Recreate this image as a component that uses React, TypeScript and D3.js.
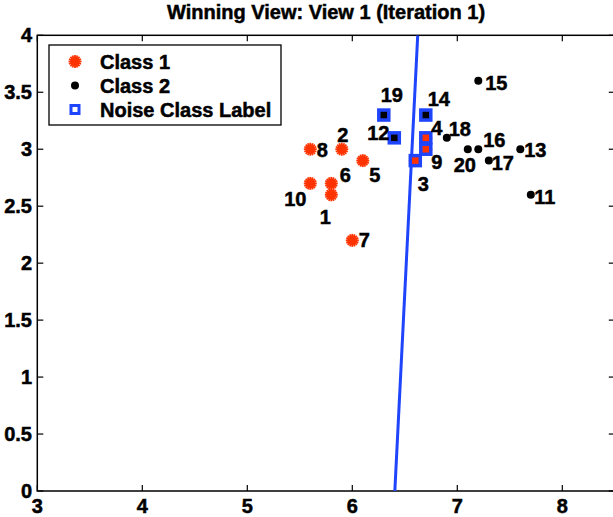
import React from "react";
import * as d3 from "d3";

const title = "Winning View: View 1 (Iteration 1)";
const class1Ids = [1, 2, 3, 4, 5, 6, 7, 8, 9, 10];
const class1X = [5.8, 5.9, 6.6, 6.7, 6.1, 5.8, 6.0, 5.6, 6.7, 5.6];
const class1Y = [2.6, 3.0, 2.9, 3.1, 2.9, 2.7, 2.2, 3.0, 3.0, 2.7];
const class2Ids = [11, 12, 13, 14, 15, 16, 17, 18, 19, 20];
const class2X = [7.7, 6.4, 7.6, 6.7, 7.2, 7.2, 7.3, 6.9, 6.3, 7.1];
const class2Y = [2.6, 3.1, 3.0, 3.3, 3.6, 3.0, 2.9, 3.1, 3.3, 3.0];
const noiseIds = [3, 4, 9, 12, 14, 19];
const boundaryX = [6.405, 6.623];
const boundaryY = [0, 4];
const xTicks = [3, 4, 5, 6, 7, 8];
const yTicks = [0, 0.5, 1, 1.5, 2, 2.5, 3, 3.5, 4];
const legendLabels = ["Class 1", "Class 2", "Noise Class Label"];

// label placement (pixel offsets of label centre from the marker)
const labelOffsets: Record<number, [number, number]> = {
  1: [-6, 22], 2: [1, -14], 3: [8, 23], 4: [11, -10], 5: [12, 14],
  6: [14, -8], 7: [12, 0], 8: [12, 1], 9: [11, 13], 10: [-15, 16],
  11: [14, 2], 12: [-16, -5], 13: [15, 1], 14: [13, -16], 15: [18, 2],
  16: [16, -9], 17: [14, 2], 18: [13, -9], 19: [8, -20], 20: [-3, 16],
};

const W = 613, H = 517;
const left = 37.3, right = 614.8, top = 35.3, bottom = 491;
const RED = "#ff3300";
const BLUE = "#1f45fc";
const FONT = "'Liberation Sans', Arial, Helvetica, sans-serif";

function Asterisk({ x, y, r = 6.5 }: { x: number; y: number; r?: number }) {
  const angles = [0, 22.5, 45, 67.5, 90, 112.5, 135, 157.5];
  return (
    <g>
      {angles.map((a) => {
        const rad = (a * Math.PI) / 180;
        const dx = Math.cos(rad) * r, dy = Math.sin(rad) * r;
        return <line key={a} x1={x - dx} y1={y - dy} x2={x + dx} y2={y + dy} stroke={RED} strokeWidth={1.8} />;
      })}
      <circle cx={x} cy={y} r={4.8} fill={RED} />
    </g>
  );
}

const textStyle = { stroke: "#000", strokeWidth: 0.5 };

export default function App() {
  const x = d3.scaleLinear().domain([3, 8.5]).range([left, right]);
  const y = d3.scaleLinear().domain([0, 4]).range([bottom, top]);

  const pts = [
    ...class1Ids.map((id, i) => ({ id, cls: 1, x: class1X[i], y: class1Y[i] })),
    ...class2Ids.map((id, i) => ({ id, cls: 2, x: class2X[i], y: class2Y[i] })),
  ];
  const line = d3.line<number>().x((_, i) => x(boundaryX[i])).y((d) => y(d));
  const tickLen = 6;

  return (
    <svg width={W} height={H} style={{ position: "absolute", left: 0, top: 0, background: "#fff" }} fontFamily={FONT}>
      <defs>
        <clipPath id="plot">
          <rect x={left} y={top} width={right - left} height={bottom - top} />
        </clipPath>
      </defs>
      <rect x={0} y={0} width={W} height={H} fill="#fff" />
      <text x={(left + right) / 2} y={19} textAnchor="middle" fontSize={20} fontWeight="bold" style={textStyle}>{title}</text>

      {/* frame */}
      <rect x={left} y={top} width={right - left} height={bottom - top} fill="none" stroke="#000" strokeWidth={1.5} />
      {xTicks.map((t) => (
        <g key={"x" + t}>
          <line x1={x(t)} x2={x(t)} y1={bottom} y2={bottom - tickLen} stroke="#000" strokeWidth={1.2} />
          <line x1={x(t)} x2={x(t)} y1={top} y2={top + tickLen} stroke="#000" strokeWidth={1.2} />
          <text x={x(t)} y={513} textAnchor="middle" fontSize={20} fontWeight="bold" style={textStyle}>{t}</text>
        </g>
      ))}
      {yTicks.map((t) => (
        <g key={"y" + t}>
          <line x1={left} x2={left + tickLen} y1={y(t)} y2={y(t)} stroke="#000" strokeWidth={1.2} />
          <line x1={right} x2={right - tickLen} y1={y(t)} y2={y(t)} stroke="#000" strokeWidth={1.2} />
          <text x={32} y={y(t) + 7} textAnchor="end" fontSize={20} fontWeight="bold" style={textStyle}>{t}</text>
        </g>
      ))}

      <g clipPath="url(#plot)">
        <path d={line(boundaryY) || ""} stroke={BLUE} strokeWidth={3} fill="none" />
      </g>

      {/* points */}
      {pts.map((p) =>
        p.cls === 1 ? (
          <Asterisk key={"m" + p.id} x={x(p.x)} y={y(p.y)} />
        ) : (
          <circle key={"m" + p.id} cx={x(p.x)} cy={y(p.y)} r={4} fill="#000" />
        )
      )}
      {pts.filter((p) => noiseIds.includes(p.id)).map((p) => (
        <rect key={"n" + p.id} x={x(p.x) - 5} y={y(p.y) - 5} width={10} height={10}
          fill={p.cls === 1 ? RED : "#000"} stroke={BLUE} strokeWidth={3.5} />
      ))}
      {pts.map((p) => {
        const [dx, dy] = labelOffsets[p.id];
        return (
          <text key={"l" + p.id} x={x(p.x) + dx} y={y(p.y) + dy + 7} textAnchor="middle" fontSize={20} fontWeight="bold" style={textStyle}>{p.id}</text>
        );
      })}

      {/* legend */}
      <rect x={49} y={45} width={232} height={80} fill="#fff" stroke="#000" strokeWidth={1.3} />
      <Asterisk x={75} y={61.5} />
      <circle cx={75} cy={85.5} r={4} fill="#000" />
      <rect x={71} y={105.5} width={8} height={8} fill="#fff" stroke={BLUE} strokeWidth={3} />
      {legendLabels.map((l, i) => (
        <text key={l} x={100} y={61.5 + i * 24 + 7} fontSize={20} fontWeight="bold" style={textStyle}>{l}</text>
      ))}
    </svg>
  );
}
